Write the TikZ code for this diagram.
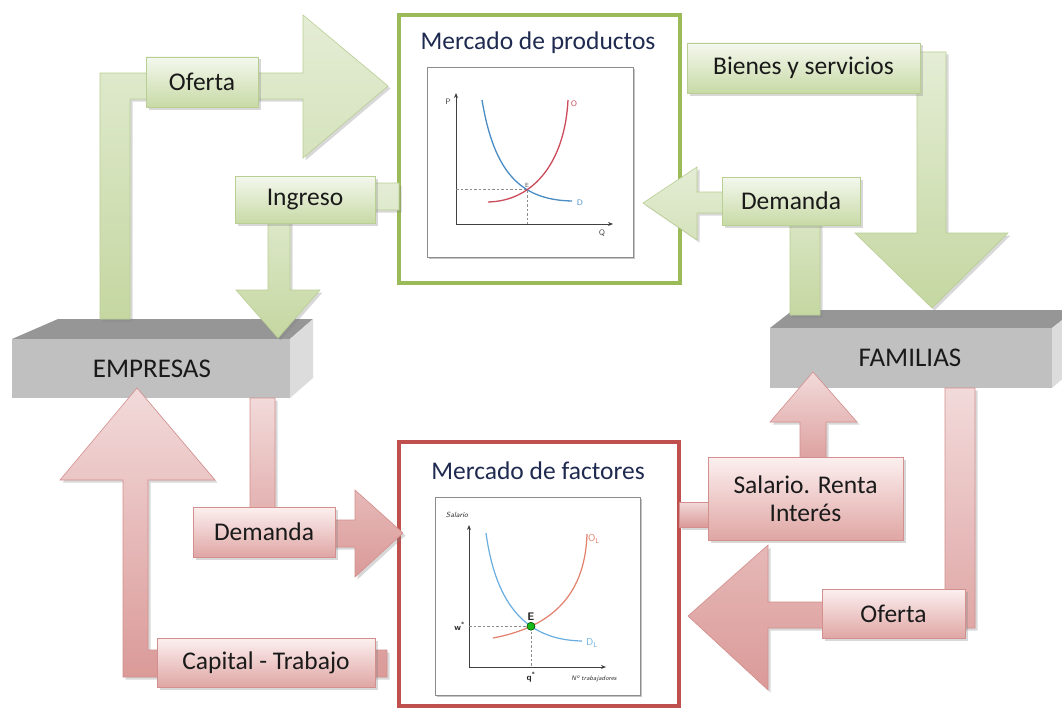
\documentclass[tikz,border=0pt]{standalone}
\usepackage{fontspec}
\setmainfont{Carlito}
\usetikzlibrary{shadows,arrows.meta,intersections,positioning}
\definecolor{gA}{HTML}{E4EDD5}
\definecolor{gB}{HTML}{C5D7A1}
\definecolor{gE}{HTML}{B9CE92}
\definecolor{gT}{HTML}{F4F8EE}
\definecolor{gBt}{HTML}{C8DAA6}
\definecolor{gL}{HTML}{9BBB59}
\definecolor{rA}{HTML}{F2DADA}
\definecolor{rB}{HTML}{DA9A98}
\definecolor{rE}{HTML}{D38F8D}
\definecolor{rT}{HTML}{FCF0F0}
\definecolor{rBt}{HTML}{DFA6A4}
\definecolor{rL}{HTML}{C0504D}
\definecolor{boxfront}{HTML}{C0C0C0}
\definecolor{boxtop}{HTML}{969696}
\definecolor{boxside}{HTML}{DCDCDC}
\definecolor{cblue}{HTML}{4A8CC4}
\definecolor{cred}{HTML}{CC4B5A}
\definecolor{lblue}{HTML}{6AAEE0}
\definecolor{lred}{HTML}{E2806C}
\definecolor{txt}{HTML}{1A1A1A}
\definecolor{tblue}{HTML}{1F2A50}
\tikzset{
  lbl/.style={font=\fontsize{25.5}{28}\selectfont, text=txt, inner sep=0pt, align=center},
  shd/.style={drop shadow={opacity=0.3, shadow xshift=2.5pt, shadow yshift=-2.5pt}},
  garrow/.style={draw=gE, line width=0.6pt, top color=gA, bottom color=gB, shd},
  rarrow/.style={draw=rE, line width=0.6pt, top color=rA, bottom color=rB, shd},
  glabel/.style={lbl, draw=gE, line width=0.8pt, top color=gT, bottom color=gBt, shd},
  rlabel/.style={lbl, draw=rE, line width=0.8pt, top color=rT, bottom color=rBt, shd},
  axisline/.style={draw=black!75, line width=1pt, -{Stealth[length=5pt,width=4pt]}},
  guide/.style={draw=black!45, line width=0.8pt, dash pattern=on 2.5pt off 2pt},
  tiny/.style={font=\fontsize{8}{9}\selectfont\sffamily, inner sep=0pt},
  frame/.style={draw=black!45, line width=1pt, fill=white, drop shadow={opacity=0.45, shadow xshift=2pt, shadow yshift=-2pt}},
  title/.style={font=\fontsize{25.5}{28}\selectfont, text=tblue, inner sep=0pt},
  boxtext/.style={font=\fontsize{27}{29}\selectfont, text=txt, inner sep=0pt},
}
\begin{document}
\begin{tikzpicture}[x=1pt,y=-1pt]
\useasboundingbox[fill=white] (0,0) rectangle (1062,709);

% ---------- 3D boxes ----------
\fill[boxtop] (12,339) -- (58,319) -- (313,319) -- (290,339) -- cycle;
\fill[boxside] (290,339) -- (313,319) -- (313,378) -- (290,398) -- cycle;
\fill[boxfront] (12,339) rectangle (290,398);
\node[boxtext] (emp) at (152,369) {EMPRESAS};

\fill[boxtop] (770,328) -- (793,310) -- (1075,310) -- (1052,328) -- cycle;
\fill[boxside] (1052,328) -- (1075,310) -- (1075,368) -- (1052,388) -- cycle;
\fill[boxfront] (770,328) rectangle (1052,388);
\node[boxtext] (fam) at (910,358) {FAMILIAS};

% ---------- Mercado de productos ----------
\draw[gL, line width=4pt, fill=white] (399,15) rectangle (680,283);
\node[title] (tprod) at (538,43) {Mercado de productos};
\draw[frame] (427,67) rectangle (633,257);
\coordinate (oA) at (456,224);
\draw[axisline] (oA) -- (456,93);
\draw[axisline] (oA) -- (613,224);
\path[name path=pdA] (482,100) .. controls (494,172) and (520,200) .. (572,201);
\path[name path=poA] (488,202) .. controls (535,201) and (565,160) .. (568,100);
\path[name intersections={of=pdA and poA, by=eA}];
\coordinate (eAy) at (oA |- eA);
\coordinate (eAx) at (eA |- oA);
\draw[guide] (eAy) -- (eA) -- (eAx);
\draw[cblue, line width=1.3pt] (482,100) .. controls (494,172) and (520,200) .. (572,201);
\draw[cred, line width=1.3pt] (488,202) .. controls (535,201) and (565,160) .. (568,100);
\node[tiny, text=black!70] (lp) at (448,102) {P};
\node[tiny, text=black!70] (lq) at (602,233) {Q};
\node[tiny, text=cred] (lo) at (574,104) {O};
\node[tiny, text=cblue] (ld) at (580,203) {D};
\node[tiny, text=black!70, font=\fontsize{6}{7}\selectfont\sffamily, above=2pt of eA] (le1) {E};

% ---------- Mercado de factores ----------
\draw[rL, line width=4pt, fill=white] (399,442) rectangle (679,706);
\node[title] (tfac) at (538,471) {Mercado de factores};
\draw[frame] (435,497) rectangle (640,695);
\coordinate (oB) at (469,667);
\draw[axisline] (oB) -- (469,525);
\draw[axisline] (oB) -- (606,667);
\path[name path=pdB] (486,533) .. controls (496,606) and (527,640) .. (582,641);
\path[name path=poB] (493,638) .. controls (546,628) and (585,600) .. (587,534);
\path[name intersections={of=pdB and poB, by=eB}];
\coordinate (eBy) at (oB |- eB);
\coordinate (eBx) at (eB |- oB);
\draw[guide] (eBy) -- (eB) -- (eBx);
\draw[lblue, line width=1.2pt] (486,533) .. controls (496,606) and (527,640) .. (582,641);
\draw[lred, line width=1.2pt] (493,638) .. controls (546,628) and (585,600) .. (587,534);
\fill[green!70!black!90, draw=green!30!black, line width=0.6pt] (eB) circle (4);
\node[tiny, font=\fontsize{7.5}{8}\selectfont\sffamily\itshape, text=black!80] (lsal) at (457,515) {Salario};
\node[tiny, font=\fontsize{6.5}{7}\selectfont\sffamily\itshape, text=black!80] (ltrab) at (594,679) {Nº trabajadores};
\node[tiny, font=\fontsize{9}{10}\selectfont\sffamily\bfseries, text=black!85, left=4pt of eBy] (lw) {w\textsuperscript{*}};
\node[tiny, font=\fontsize{9}{10}\selectfont\sffamily\bfseries, text=black!85, below=5pt of eBx] (lqs) {q\textsuperscript{*}};
\node[tiny, font=\fontsize{11}{12}\selectfont\sffamily\bfseries, text=black!85, above=6pt of eB] (lE) {E};
\node[tiny, font=\fontsize{10}{11}\selectfont\sffamily, text=lblue] (ldl) at (592,643) {D\textsubscript{L}};
\node[tiny, font=\fontsize{10}{11}\selectfont\sffamily, text=lred] (lol) at (594,539) {O\textsubscript{L}};

% ---------- green arrows ----------
\path[garrow] (100,319) -- (100,73) -- (303,73) -- (303,15) -- (388,86) -- (303,158) -- (303,99) -- (130,99) -- (130,319) -- cycle;
\path[garrow] (399,183) -- (290,183) -- (290,290) -- (320,290) -- (278,338) -- (236,290) -- (268,290) -- (268,210) -- (399,210) -- cycle;
\path[garrow] (880,52) -- (946,52) -- (946,233) -- (1008,233) -- (932,308) -- (855,233) -- (917,233) -- (917,80) -- (880,80) -- cycle;
\path[garrow] (697,167) -- (643,203) -- (697,240) -- (697,213) -- (790,213) -- (790,315) -- (820,315) -- (820,192) -- (697,192) -- cycle;

% ---------- red arrows ----------
\path[rarrow] (679,502) -- (760,502) -- (760,527) -- (679,527) -- cycle;
\path[rarrow] (800,470) -- (800,422) -- (770,422) -- (813,372) -- (857,422) -- (826,422) -- (826,470) -- cycle;
\path[rarrow] (945,388) -- (975,388) -- (975,628) -- (768,628) -- (768,690) -- (688,616) -- (768,545) -- (768,602) -- (945,602) -- cycle;
\path[rarrow] (250,398) -- (275,398) -- (275,520) -- (355,520) -- (355,490) -- (403,533) -- (355,577) -- (355,547) -- (250,547) -- cycle;
\path[rarrow] (123,677) -- (123,480) -- (60,480) -- (137,388) -- (215,480) -- (148,480) -- (148,650) -- (387,650) -- (387,677) -- cycle;

% ---------- labels ----------
\node[glabel, minimum width=112pt, minimum height=50pt] (gof) at (202,82) {Oferta};
\node[glabel, minimum width=140pt, minimum height=47pt] (ging) at (305,199.5) {Ingreso};
\node[glabel, minimum width=233pt, minimum height=50pt] (gbs) at (803.5,68) {Bienes y servicios};
\node[glabel, minimum width=138pt, minimum height=48pt] (gdem) at (791,201) {Demanda};
\node[rlabel, minimum width=195pt, minimum height=83pt] (rsal) at (805.5,498.5) {Salario. Renta\\Interés};
\node[rlabel, minimum width=143pt, minimum height=49pt] (rof) at (893.5,613.5) {Oferta};
\node[rlabel, minimum width=142pt, minimum height=50pt] (rdem) at (264,532) {Demanda};
\node[rlabel, minimum width=218pt, minimum height=49pt] (rcap) at (266,662.5) {Capital - Trabajo};
\end{tikzpicture}
\end{document}
